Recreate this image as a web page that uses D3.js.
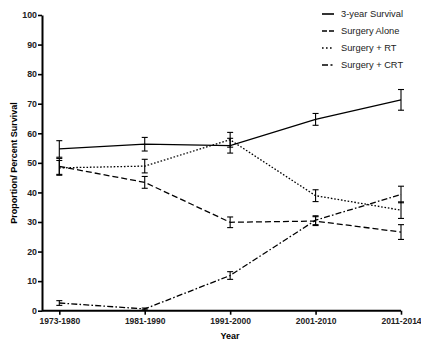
<!DOCTYPE html>
<html>
<head>
<meta charset="utf-8">
<script src="https://cdn.jsdelivr.net/npm/d3@7"></script>
<style>
	body { margin: 0; background: #fff; }
	svg { display: block; font-family: "Liberation Sans", Arial, sans-serif; }
</style>
</head>
<body>
<div id="chart"></div>
<script>
// categories + series (value, error)
var years = ["1973-1980", "1981-1990", "1991-2000", "2001-2010", "2011-2014"];
var survival = [54.7, 56.3, 55.8, 64.7, 71.3];
var survivalErr = [2.8, 2.3, 2.5, 2.0, 3.5];
var alone = [48.8, 43.4, 29.9, 30.3, 26.6];
var aloneErr = [2.7, 2.0, 1.8, 1.5, 2.5];
var rt = [48.3, 48.9, 57.8, 38.9, 34.0];
var rtErr = [2.5, 2.3, 2.5, 2.0, 2.8];
var crt = [2.6, 0.6, 11.9, 30.6, 39.3];
var crtErr = [0.8, 0.3, 1.3, 1.5, 2.8];
var yTicks = [0, 10, 20, 30, 40, 50, 60, 70, 80, 90, 100];

var series = [
	{ name: "3-year Survival", values: survival, err: survivalErr, dash: null },
	{ name: "Surgery Alone", values: alone, err: aloneErr, dash: "6,3" },
	{ name: "Surgery + RT", values: rt, err: rtErr, dash: "1.6,1.8" },
	{ name: "Surgery + CRT", values: crt, err: crtErr, dash: "6,2.2,1.6,2.2" }
];

var width = 421,
	height = 342;

var svg = d3.select("#chart").append("svg")
	.attr("width", width)
	.attr("height", height);

var x = d3.scalePoint().domain(years).range([59.3, 401]);
var y = d3.scaleLinear().domain([0, 100]).range([310.7, 15]);

// axes
var xAxis = svg.append("g")
	.attr("transform", "translate(0," + y(0) + ")")
	.call(d3.axisBottom(x).tickSize(4).tickSizeOuter(0));
xAxis.select(".domain").attr("d", "M42,0H" + x(years[years.length - 1]));

var yAxis = svg.append("g")
	.attr("transform", "translate(42,0)")
	.call(d3.axisLeft(y).tickValues(yTicks).tickSize(4).tickSizeOuter(0));

svg.selectAll(".domain").attr("stroke-width", 2).attr("stroke", "#000");
svg.selectAll(".tick line").attr("stroke-width", 1.6).attr("stroke", "#000");
svg.selectAll(".tick text")
	.attr("font-size", 8.8)
	.attr("font-weight", "bold")
	.attr("fill", "#222")
	.attr("font-family", "Liberation Sans, Arial, sans-serif");
xAxis.selectAll(".tick text").attr("dy", "0.8em").attr("font-size", 8.5);
yAxis.selectAll(".tick text").attr("x", -5);

// axis titles
svg.append("text")
	.attr("x", 230)
	.attr("y", 338.5)
	.attr("text-anchor", "middle")
	.attr("font-size", 9)
	.attr("font-weight", "bold")
	.text("Year");

svg.append("text")
	.attr("transform", "translate(17,163) rotate(-90)")
	.attr("text-anchor", "middle")
	.attr("font-size", 9)
	.attr("font-weight", "bold")
	.text("Proportion/ Percent Survival");

// lines
var line = d3.line()
	.x(function(d, i) { return x(years[i]); })
	.y(function(d) { return y(d); });

series.forEach(function(s) {
	svg.append("path")
		.datum(s.values)
		.attr("fill", "none")
		.attr("stroke", "#000")
		.attr("stroke-width", 1.3)
		.attr("stroke-dasharray", s.dash)
		.attr("d", line);

	var eb = svg.append("g").selectAll("g")
		.data(s.values)
		.enter().append("g")
		.attr("stroke", "#000")
		.attr("stroke-width", 1.1);
	eb.append("line")
		.attr("x1", function(d, i) { return x(years[i]); })
		.attr("x2", function(d, i) { return x(years[i]); })
		.attr("y1", function(d, i) { return y(d + s.err[i]); })
		.attr("y2", function(d, i) { return y(d - s.err[i]); });
	[1, -1].forEach(function(sign) {
		eb.append("line")
			.attr("x1", function(d, i) { return x(years[i]) - 3; })
			.attr("x2", function(d, i) { return x(years[i]) + 3; })
			.attr("y1", function(d, i) { return y(d + sign * s.err[i]); })
			.attr("y2", function(d, i) { return y(d + sign * s.err[i]); });
	});
});

// legend
var legend = svg.append("g").selectAll("g")
	.data(series)
	.enter().append("g")
	.attr("transform", function(d, i) { return "translate(322," + (14 + i * 17) + ")"; });

legend.append("line")
	.attr("x1", 0)
	.attr("x2", 12)
	.attr("stroke", "#000")
	.attr("stroke-width", 1.6)
	.attr("stroke-dasharray", function(d) {
		if (d.name == "Surgery Alone") return "5,2";
		if (d.name == "Surgery + RT") return "1.6,2.4";
		if (d.name == "Surgery + CRT") return "6,2.5,2,3";
		return null;
	});

legend.append("text")
	.attr("x", 19)
	.attr("dy", "0.35em")
	.attr("font-size", 9.3)
	.attr("fill", "#222")
	.text(function(d) { return d.name; });
</script>
</body>
</html>
